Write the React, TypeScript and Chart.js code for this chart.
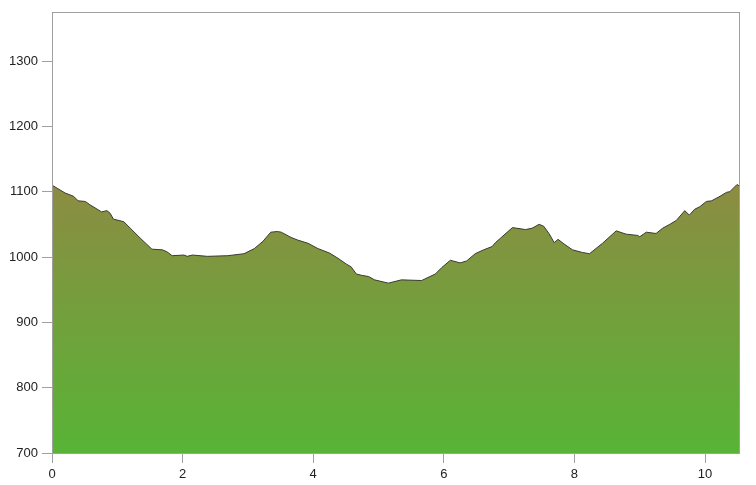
import React, { useEffect, useRef } from "react";
import { Chart, registerables } from "chart.js";

Chart.register(...registerables);

const distances = [
  0, 0.2, 0.33, 0.4, 0.51, 0.58, 0.76, 0.84, 0.89, 0.94, 1.1, 1.2, 1.35, 1.53, 1.69, 1.76, 1.84,
  2.02, 2.07, 2.15, 2.38, 2.69, 2.94, 3.1, 3.23, 3.35, 3.45, 3.51, 3.66, 3.76, 3.92, 4.07, 4.25,
  4.38, 4.51, 4.58, 4.66, 4.74, 4.85, 4.94, 5.15, 5.35, 5.66, 5.87, 5.97, 6.1, 6.25, 6.35, 6.48,
  6.61, 6.74, 6.79, 6.87, 7.05, 7.25, 7.35, 7.46, 7.53, 7.61, 7.69, 7.75, 7.84, 7.97, 8.12, 8.23,
  8.43, 8.64, 8.79, 8.97, 9.0, 9.1, 9.25, 9.35, 9.46, 9.56, 9.69, 9.76, 9.84, 9.92, 10.02, 10.1,
  10.23, 10.33, 10.38, 10.49, 10.52,
];
const elevations = [
  1110, 1098, 1093, 1086, 1085, 1080, 1069, 1071, 1067, 1058, 1054, 1044, 1029, 1012, 1011, 1008, 1002,
  1003, 1001, 1003, 1001, 1002, 1005, 1013, 1024, 1038, 1039, 1038, 1030, 1026, 1021, 1013, 1006,
  998, 989, 985, 974, 972, 970, 965, 960, 965, 964, 974, 984, 995, 991, 994, 1005,
  1011, 1016, 1022, 1029, 1045, 1042, 1044, 1050, 1047, 1036, 1022, 1027, 1020, 1011, 1007, 1005,
  1021, 1040, 1035, 1033, 1031, 1038, 1036, 1044, 1050, 1056, 1071, 1064, 1073, 1077, 1085, 1086,
  1093, 1099, 1100, 1111, 1109,
];
const xTicksStep = 2;
const yTicksStep = 100;
const xRange = [0, 10.52];
const yRange = [700, 1375];

const frame = {
  id: "frame",
  afterDraw(chart: any) {
    const { ctx, chartArea } = chart;
    ctx.save();
    ctx.strokeStyle = "#a0a0a0";
    ctx.lineWidth = 1;
    ctx.strokeRect(
      Math.round(chartArea.left) + 0.5,
      Math.round(chartArea.top) + 0.5,
      Math.round(chartArea.right - chartArea.left),
      Math.round(chartArea.bottom - chartArea.top)
    );
    ctx.restore();
  },
};

export default function App() {
  const ref = useRef<HTMLCanvasElement>(null);
  useEffect(() => {
    const canvas = ref.current!;
    const chart = new Chart(canvas, {
      type: "line",
      data: {
        datasets: [
          {
            data: distances.map((d, i) => ({ x: d, y: elevations[i] })),
            borderColor: "#3a3a30",
            borderWidth: 1,
            pointRadius: 0,
            tension: 0,
            fill: "start",
            backgroundColor: (c: any) => {
              const { ctx, chartArea } = c.chart;
              if (!chartArea) return "#7a9a40";
              const yTop = c.chart.scales.y.getPixelForValue(1110);
              const g = ctx.createLinearGradient(0, yTop, 0, chartArea.bottom);
              g.addColorStop(0, "#8c8c42");
              g.addColorStop(1, "#58b436");
              return g;
            },
          },
        ],
      },
      options: {
        animation: false,
        responsive: false,
        maintainAspectRatio: false,
        layout: { padding: { top: 12, right: 17, left: 0, bottom: 0 } },
        plugins: { legend: { display: false }, tooltip: { enabled: false } },
        scales: {
          x: {
            type: "linear",
            min: xRange[0],
            max: xRange[1],
            afterFit: (s: any) => {
              s.height = 32;
            },
            ticks: {
              stepSize: xTicksStep,
              includeBounds: false,
              color: "#222",
              padding: 4,
              maxRotation: 0,
              callback: (v: any) => String(v),
              font: { family: "Liberation Sans, Arial", size: 13 },
            },
            grid: {
              drawOnChartArea: false,
              drawTicks: true,
              tickLength: 10,
              color: "#a0a0a0",
            },
            border: { display: true, color: "#a0a0a0" },
          },
          y: {
            min: yRange[0],
            max: yRange[1],
            afterFit: (s: any) => {
              s.width = 52;
            },
            ticks: {
              stepSize: yTicksStep,
              includeBounds: false,
              color: "#222",
              padding: 4,
              callback: (v: any) => String(v),
              font: { family: "Liberation Sans, Arial", size: 13 },
            },
            grid: {
              drawOnChartArea: false,
              drawTicks: true,
              tickLength: 10,
              color: "#a0a0a0",
            },
            border: { display: true, color: "#a0a0a0" },
          },
        },
      },
      plugins: [frame],
    } as any);
    return () => chart.destroy();
  }, []);
  return (
    <div style={{ position: "fixed", left: 0, top: 0, width: 756, height: 485, background: "#fff" }}>
      <canvas ref={ref} width={756} height={485} style={{ width: 756, height: 485, display: "block" }} />
    </div>
  );
}
